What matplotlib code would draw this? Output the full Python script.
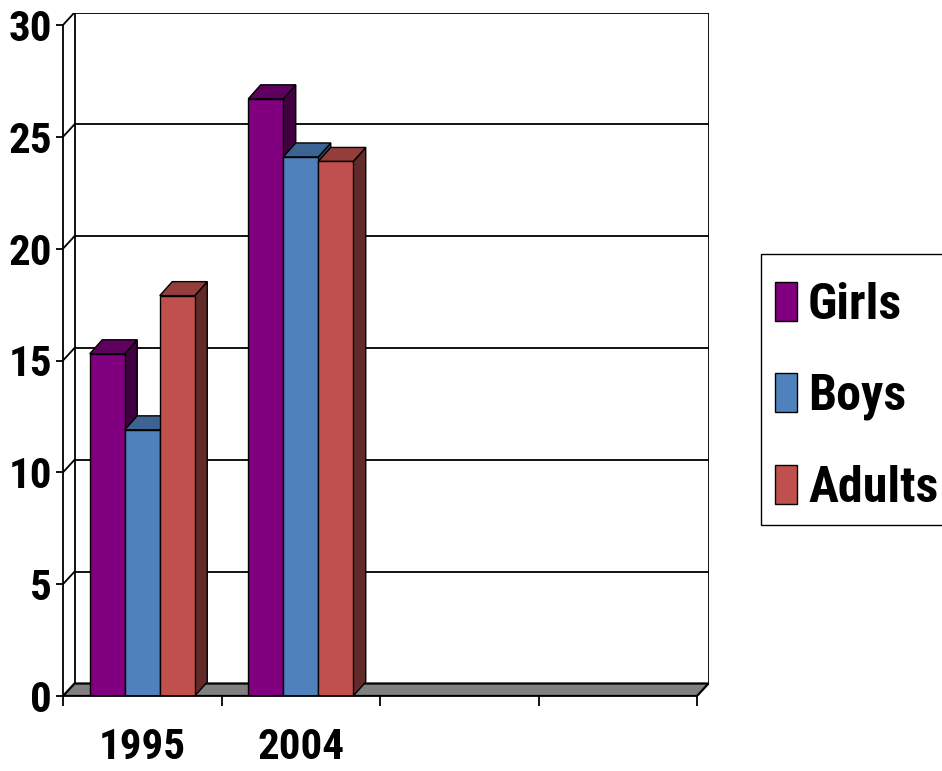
import matplotlib.pyplot as plt
from matplotlib.patches import Polygon, Patch, Rectangle

# survey results by year
years = ["1995", "2004", "", ""]
groups = ["Girls", "Boys", "Adults"]
girls = [15.3, 26.7]
boys = [11.9, 24.1]
adults = [17.9, 23.9]
y_ticks = [0, 5, 10, 15, 20, 25, 30]

front_colors = ["#800080", "#4F81BD", "#C0504D"]
top_colors = ["#5F005F", "#3C6391", "#943E3C"]
side_colors = ["#400040", "#2A4466", "#632A2A"]

FONT = ["Roboto Condensed", "DejaVu Sans"]
plt.rcParams["font.family"] = FONT
plt.rcParams["font.weight"] = "bold"

W, H = 942, 771
fig = plt.figure(figsize=(W / 100, H / 100), dpi=100)

# pixel geometry of the plot box
x0_px, x4_px = 63, 697
y0_px, y30_px = 696, 25
px_x = (x4_px - x0_px) / 4.0
px_y = (y0_px - y30_px) / 30.0

# depth of the walls and of the bars, in data units
wall_dx, wall_dy = 11.5 / px_x, 12.5 / px_y
bar_dx, bar_dy = 12.5 / px_x, 14.0 / px_y

xmax = 4 + wall_dx
ymax = 30 + wall_dy
ax = fig.add_axes([x0_px / W, (H - y0_px) / H,
                   xmax * px_x / W, ymax * px_y / H])
ax.set_xlim(0, xmax)
ax.set_ylim(0, ymax)

lw = 1.3
# back wall with gridlines and the short side-wall diagonals
ax.plot([wall_dx, wall_dx], [wall_dy, 30 + wall_dy], color="black", lw=lw, zorder=1)
ax.plot([4 + wall_dx, 4 + wall_dx], [wall_dy, 30 + wall_dy], color="black", lw=lw, zorder=1)
for v in y_ticks[1:]:
    ax.plot([wall_dx, 4 + wall_dx], [v + wall_dy, v + wall_dy], color="black", lw=lw, zorder=1)
    ax.plot([0, wall_dx], [v, v + wall_dy], color="black", lw=lw, zorder=1)

# floor
floor = Polygon([(0, 0), (4, 0), (4 + wall_dx, wall_dy), (wall_dx, wall_dy)],
                closed=True, facecolor="#808080", edgecolor="black", lw=1.6, zorder=2)
ax.add_patch(floor)

# 3d-looking bars, painted left to right
bar_w = 35 / px_x
offsets = [-1.5 * bar_w, -0.5 * bar_w, 0.5 * bar_w]
series = [girls, boys, adults]
for i in range(len(girls)):
    for j, vals in enumerate(series):
        v = vals[i]
        left = i + 0.5 + offsets[j]
        right = left + bar_w
        z = 3 + i * 3 + j
        side = Polygon([(right, 0), (right + bar_dx, bar_dy), (right + bar_dx, v + bar_dy), (right, v)],
                       closed=True, facecolor=side_colors[j], edgecolor="black", lw=1.0, zorder=z)
        top = Polygon([(left, v), (right, v), (right + bar_dx, v + bar_dy), (left + bar_dx, v + bar_dy)],
                      closed=True, facecolor=top_colors[j], edgecolor="black", lw=1.0, zorder=z)
        ax.add_patch(side)
        ax.add_patch(top)
        ax.bar(left, v, width=bar_w, align="edge", color=front_colors[j],
               edgecolor="black", linewidth=1.0, zorder=z)

# axes
for s in ["top", "right"]:
    ax.spines[s].set_visible(False)
ax.spines["left"].set_bounds(0, 30)
ax.spines["bottom"].set_bounds(0, 4)
ax.spines["left"].set_linewidth(lw)
ax.spines["bottom"].set_linewidth(lw)
ax.spines["left"].set_zorder(20)
ax.spines["bottom"].set_zorder(20)

ax.set_yticks(y_ticks)
ax.set_yticklabels([str(t) for t in y_ticks])
ax.tick_params(axis="y", direction="out", length=5, width=lw, pad=3, labelsize=31)

ax.set_xticks([0, 1, 2, 3, 4])
ax.set_xticklabels([])
ax.set_xticks([0.5, 1.5, 2.5, 3.5], minor=True)
ax.set_xticklabels(years, minor=True)
ax.tick_params(axis="x", which="major", direction="out", length=7, width=lw)
ax.tick_params(axis="x", which="minor", length=0, pad=22, labelsize=31)
for lab in ax.get_xticklabels(minor=True) + ax.get_yticklabels():
    lab.set_fontweight("bold")

# legend: entries without frame, box drawn separately so it can run off the right edge
fig.add_artist(Rectangle((761 / W, 1 - 525 / H), 200 / W, 271 / H, transform=fig.transFigure,
                         facecolor="white", edgecolor="black", lw=1.0, zorder=0))
handles = [Patch(facecolor=c, edgecolor="black", lw=1.0) for c in front_colors]
leg = fig.legend(handles, groups, loc="upper left",
                 bbox_to_anchor=(775 / W, 1 - 282 / H), frameon=False,
                 prop={"size": 36, "weight": "bold", "family": FONT},
                 handlelength=0.44, handleheight=0.82, handletextpad=0.22,
                 labelspacing=0.88, borderpad=0, borderaxespad=0)

fig.savefig("out.png", dpi=100)
